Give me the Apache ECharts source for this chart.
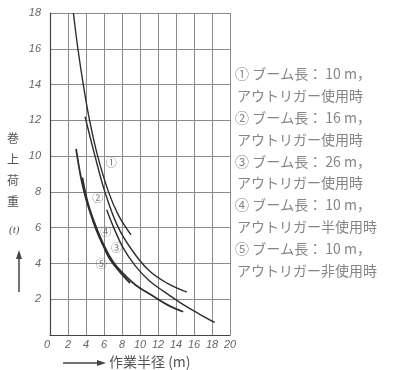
<!DOCTYPE html>
<html><head><meta charset="utf-8">
<script src="https://cdn.jsdelivr.net/npm/echarts@6/dist/echarts.min.js"></script>
<style>html,body{margin:0;padding:0;background:#fff}#c{width:414px;height:370px}</style>
</head><body><div id="c"></div>
<script>
// 作業半径 (m) / 巻上荷重 (t)
const xTicks = [0,2,4,6,8,10,12,14,16,18,20];
const yTicks = [0,2,4,6,8,10,12,14,16,18];
// ① ブーム長 10m, アウトリガー使用時
const c1X = [2.6,3.1,3.7,4.4,5.3,6.5,7.6,9.0];
const c1Y = [18,16,14,12,10,8.0,6.7,5.6];
// ② ブーム長 16m, アウトリガー使用時
const c2X = [3.9,5.0,6.1,7.5,9.1,11.0,13.0,15.2];
const c2Y = [12.2,10,8.0,6.1,4.75,3.6,2.9,2.4];
// ③ ブーム長 26m, アウトリガー使用時
const c3X = [6.3,7.0,8.1,9.5,11.0,12.6,14.5,16.5,18.3];
const c3Y = [7.0,6.1,4.9,3.85,3.05,2.45,1.8,1.2,0.7];
// ④ ブーム長 10m
const c4X = [3.6,4.2,5.0,6.0,7.0,8.0,9.5,11.4,13.0,14.8];
const c4Y = [8.8,7.4,6.2,5.0,4.1,3.5,2.8,2.2,1.7,1.3];
// ⑤ ブーム長 10m, アウトリガー非使用時
const c5X = [2.9,3.4,3.9,4.5,5.2,6.0,6.7,7.8,8.9];
const c5Y = [10.4,8.9,7.8,6.8,5.8,4.9,4.2,3.5,2.9];
// curve labels
const tagText = ['①','②','④','③','⑤'];
const tagX = [6.8,5.3,6.2,7.4,5.7];
const tagY = [9.6,7.65,5.75,4.9,4.0];
const legendLines = [
 '① ブーム長： 10 m，','アウトリガー使用時',
 '② ブーム長： 16 m，','アウトリガー使用時',
 '③ ブーム長： 26 m，','アウトリガー使用時',
 '④ ブーム長： 10 m，','アウトリガー半使用時',
 '⑤ ブーム長： 10 m，','アウトリガー非使用時'
];

const zip = (xs, ys) => xs.map((x,i)=>[x, ys[i]]);
const lineSeries = (name, xs, ys, w) => ({
  name, type:'line', data: zip(xs,ys), smooth:0.4, symbol:'none',
  lineStyle:{color:'#2e2e2e', width:w}, silent:true
});
const chart = echarts.init(document.getElementById('c'), null, {renderer:'canvas'});
const axisFont = {fontFamily:'Liberation Sans', fontStyle:'italic', fontSize:11, color:'#666'};
const graphics = [];
legendLines.forEach((t,i)=>{
  graphics.push({type:'text', left: i%2===0 ? 235 : 237, top: 67 + i*21.8,
    style:{text:t, font:'14px "Noto Sans CJK JP"', fill:'#858585'}});
});
graphics.push({type:'text', left:7, top:128, style:{text:'巻\n上\n荷\n重', font:'12px "Noto Sans CJK JP"', fill:'#555', lineHeight:21}});
graphics.push({type:'text', left:9, top:225, style:{text:'(t)', font:'italic 11px "Liberation Serif"', fill:'#555'}});
graphics.push({type:'line', shape:{x1:19,y1:292,x2:19,y2:256}, style:{stroke:'#444', lineWidth:1.5}});
graphics.push({type:'polygon', shape:{points:[[19,250],[16,259],[22,259]]}, style:{fill:'#444'}});
graphics.push({type:'line', shape:{x1:63,y1:363,x2:100,y2:363}, style:{stroke:'#444', lineWidth:1.5}});
graphics.push({type:'polygon', shape:{points:[[106,363],[97,360],[97,366]]}, style:{fill:'#444'}});
graphics.push({type:'text', left:109, top:355, style:{text:'作業半径 (m)', font:'14px "Noto Sans CJK JP"', fill:'#555'}});

chart.setOption({
  animation:false,
  backgroundColor:'#ffffff',
  grid:{left:50, right:184, top:13, bottom:35, containLabel:false},
  xAxis:{type:'value', min:xTicks[0], max:xTicks[xTicks.length-1], interval:2,
    axisLine:{show:true, lineStyle:{color:'#444', width:1.2}}, axisTick:{show:false},
    axisLabel:Object.assign({margin:4, showMinLabel:true, showMaxLabel:true, alignMinLabel:'right'}, axisFont),
    splitLine:{show:true, lineStyle:{color:'#8a8a8a', width:1}}},
  yAxis:{type:'value', min:yTicks[0], max:yTicks[yTicks.length-1], interval:2,
    axisLine:{show:true, lineStyle:{color:'#444', width:1.2}}, axisTick:{show:false},
    axisLabel:Object.assign({margin:9, formatter:v=> v===0?'':String(v)}, axisFont),
    splitLine:{show:true, lineStyle:{color:'#8a8a8a', width:1}}},
  series:[
    lineSeries('①', c1X, c1Y, 1.4),
    lineSeries('②', c2X, c2Y, 1.4),
    lineSeries('③', c3X, c3Y, 1.4),
    lineSeries('④', c4X, c4Y, 1.8),
    lineSeries('⑤', c5X, c5Y, 1.8),
    {type:'scatter', data: zip(tagX, tagY).map((p,i)=>({value:p, name:tagText[i]})), symbolSize:1,
      itemStyle:{color:'rgba(0,0,0,0)'}, silent:true,
      label:{show:true, position:'inside', formatter:p=>p.name, fontSize:11, color:'#555', fontFamily:'"Noto Sans CJK JP"'}}
  ],
  graphic: graphics
});
</script></body></html>
